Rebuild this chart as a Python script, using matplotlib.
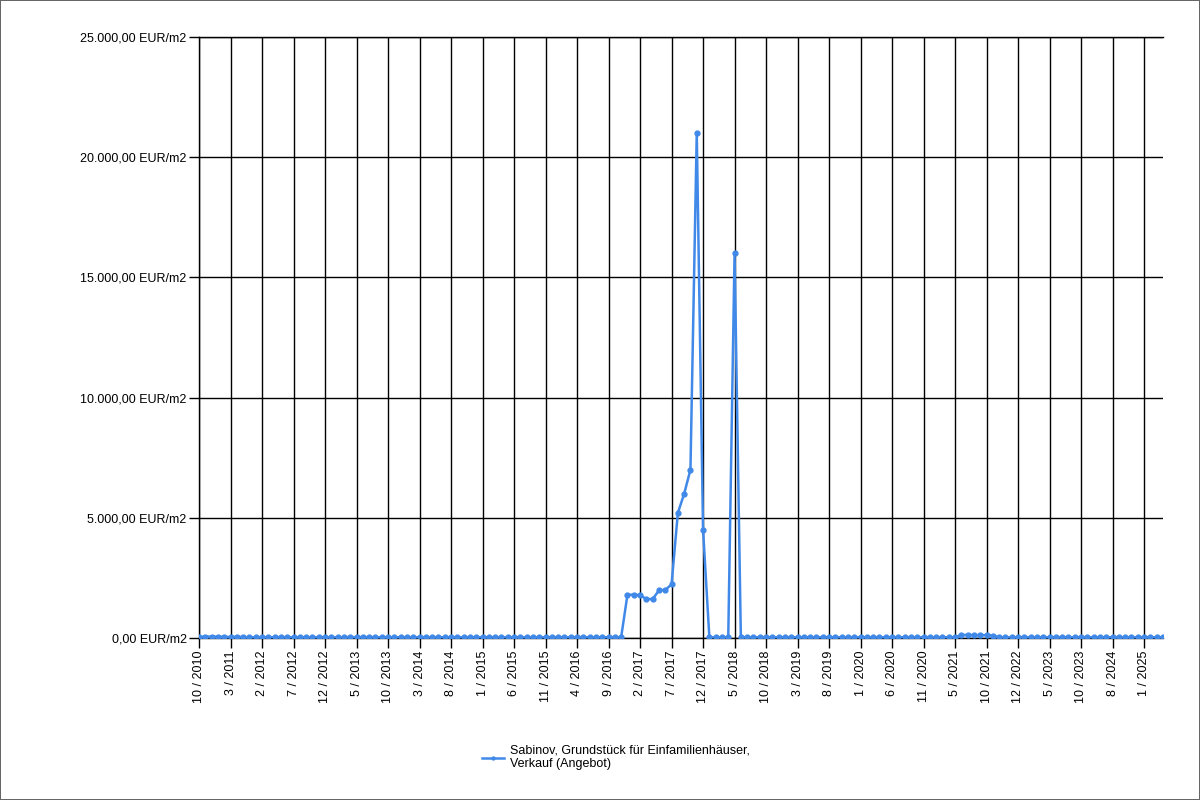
import matplotlib
matplotlib.use("Agg")
import matplotlib.pyplot as plt
from matplotlib.ticker import FuncFormatter, FixedLocator

plt.rcParams['font.family'] = ['Liberation Sans', 'DejaVu Sans']

# tick labels, one every 5 data points
tick_labels = ["10 / 2010", "3 / 2011", "2 / 2012", "7 / 2012", "12 / 2012", "5 / 2013",
               "10 / 2013", "3 / 2014", "8 / 2014", "1 / 2015", "6 / 2015", "11 / 2015",
               "4 / 2016", "9 / 2016", "2 / 2017", "7 / 2017", "12 / 2017", "5 / 2018",
               "10 / 2018", "3 / 2019", "8 / 2019", "1 / 2020", "6 / 2020", "11 / 2020",
               "5 / 2021", "10 / 2021", "12 / 2022", "5 / 2023", "10 / 2023", "8 / 2024",
               "1 / 2025"]

# EUR/m2 per data point (154 points)
prices = (
    [50, 60, 60, 55, 50, 40, 55, 35, 30, 30,
     30, 30, 35, 35, 30, 30, 30, 30, 30, 30,
     30, 30, 30, 30, 35, 35, 35, 35, 30, 30,
     30, 30, 30, 30, 30, 30, 30, 30, 30, 30,
     30, 30, 30, 30, 30, 30, 30, 30, 30, 30,
     30, 30, 30, 30, 30, 30, 30, 30, 30, 30,
     30, 30, 30, 30, 30, 30, 30, 30]
    + [1800, 1800, 1780, 1620, 1620, 1980, 2000, 2230, 5200, 6000, 7000, 21000, 4500]
    + [30, 30, 30, 30]
    + [16000]
    + [30, 30, 30, 30, 30, 30, 30, 30, 30, 30,
       30, 30, 30, 30, 30, 30, 30, 30, 30, 30,
       30, 30, 30, 30, 30, 30, 30, 30, 30, 30,
       30, 30, 30, 30, 30]
    + [120, 130, 120, 120, 120, 100]
    + [30, 30, 30, 30, 30, 30, 30, 30, 30, 30,
       30, 30, 30, 30, 30, 30, 30, 30, 30, 30,
       30, 30, 30, 30, 30, 30, 30]
)
series_name = "Sabinov, Grundstück für Einfamilienhäuser,\nVerkauf (Angebot)"


def eur_fmt(v, pos):
    s = f"{v:,.2f}".replace(",", "X").replace(".", ",").replace("X", ".")
    return s + " EUR/m2"


fig = plt.figure(figsize=(12, 8), dpi=100)
fig.patch.set_edgecolor("#666666")
fig.patch.set_linewidth(1.2)
ax = fig.add_axes([199 / 1200, 1 - 638 / 800, (1163 - 199) / 1200, (638 - 37) / 800])

x = list(range(len(prices)))
ax.plot(x, prices, color="#4189E8", linewidth=1.8, marker="o", markersize=3.5,
        label=series_name, zorder=3)

ax.set_xlim(0, len(prices) - 1)
ax.set_ylim(0, 25000)
ax.yaxis.set_major_locator(FixedLocator([0, 5000, 10000, 15000, 20000, 25000]))
ax.yaxis.set_major_formatter(FuncFormatter(eur_fmt))
ax.set_xticks(range(0, 5 * len(tick_labels), 5))
ax.set_xticklabels(tick_labels, rotation=90)
ax.tick_params(axis="both", length=7, width=1, color="black", labelsize=9, pad=2)

ax.grid(True, color="black", linewidth=1, zorder=0)
ax.set_axisbelow(True)
ax.spines["right"].set_visible(False)
for side in ["left", "bottom", "top"]:
    ax.spines[side].set_color("black")
    ax.spines[side].set_linewidth(1)

leg = fig.legend(loc="upper left", bbox_to_anchor=(0.392, 0.075 + 0.008), frameon=False,
                 fontsize=9, handlelength=1.8, handletextpad=0.5, labelspacing=0,
                 markerscale=0.6)
for t in leg.get_texts():
    t.set_linespacing(1.15)

fig.savefig("out.png", dpi=100, edgecolor=fig.get_edgecolor())
